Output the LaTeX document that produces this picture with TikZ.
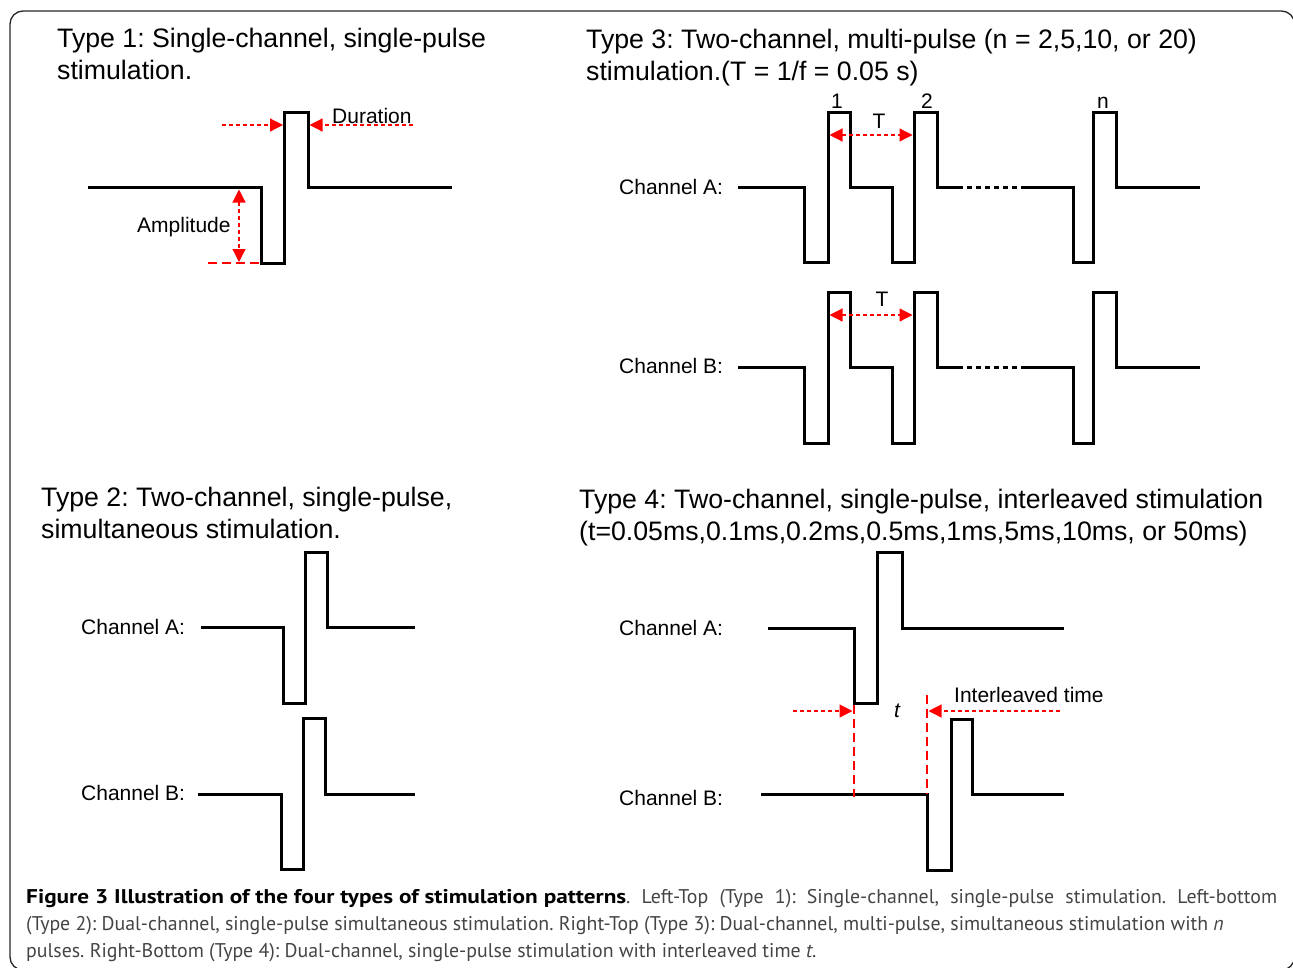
\documentclass[tikz,border=0pt]{standalone}
\usepackage{fontspec}
\setmainfont{Liberation Sans}
\newfontfamily\capfont{PT Sans}
\usetikzlibrary{arrows.meta}
\definecolor{capgray}{RGB}{68,68,68}
\frenchspacing
\tikzset{
  x={(1pt,0)}, y={(0,-1pt)},
  wave/.style={line width=3pt, line join=miter, black},
  dotline/.style={line width=3pt, black, dash pattern=on 5pt off 4pt},
  redarrow/.style={red, line width=1.2pt, dash pattern=on 4pt off 3pt, -{Triangle[length=13pt,width=13pt]}},
  reddouble/.style={red, line width=1.2pt, dash pattern=on 4pt off 3pt, {Triangle[length=13pt,width=13pt]}-{Triangle[length=13pt,width=13pt]}},
  redlong/.style={red, line width=2pt, dash pattern=on 9pt off 5pt},
  title/.style={anchor=base west, inner sep=0pt, font=\frenchspacing\fontsize{26.7}{32}\selectfont},
  lab/.style={anchor=base west, inner sep=0pt, font=\fontsize{21}{25}\selectfont},
  labc/.style={anchor=base, inner sep=0pt, font=\fontsize{21}{25}\selectfont},
  capline/.style={anchor=base west, inner sep=0pt, font=\frenchspacing\capfont\fontsize{19.85}{27}\selectfont},
}
\begin{document}
\begin{tikzpicture}
\useasboundingbox (0,0) rectangle (1293,967);
\draw[line width=1.3pt, rounded corners=13pt, black!85] (10,11) rectangle (1294.5,970);

% ---------- Type 1 ----------
\node[title] (t1a) at (57,47) {Type 1: Single-channel, single-pulse};
\node[title] (t1b) at (57,79) {stimulation.};
\draw[wave] (88,187) -- (261,187) -- (261,263) -- (284,263) -- (284,112) -- (308,112) -- (308,187) -- (452,187);
\coordinate (du1s) at (222,125); \coordinate (du1e) at (283,125);
\coordinate (du2s) at (413,125); \coordinate (du2e) at (309.5,125);
\draw[redarrow] (du1s) -- (du1e);
\draw[redarrow] (du2s) -- (du2e);
\node[lab] (dur) at (332,123) {Duration};
\coordinate (am1) at (239,189.5); \coordinate (am2) at (239,262);
\draw[reddouble] (am1) -- (am2);
\coordinate (al1) at (208,263); \coordinate (al2) at (259,263);
\draw[redlong] (al1) -- (al2);
\node[lab] (amp) at (137,232) {Amplitude};

% ---------- Type 3 ----------
\node[title] (t3a) at (586,48) {Type 3: Two-channel, multi-pulse (n = 2,5,10, or 20)};
\node[title] (t3b) at (586,80) {stimulation.(T = 1/f = 0.05 s)};
\node[lab] (c3a) at (619,194.5) {Channel A:};
\node[lab] (c3b) at (619,373.5) {Channel B:};
\draw[wave] (738,187) -- (804,187) -- (804,262) -- (828,262) -- (828,112) -- (850,112) -- (850,187) -- (892,187) -- (892,262) -- (914,262) -- (914,112) -- (937,112) -- (937,187) -- (958,187);
\draw[dotline] (958,187) -- (1023,187);
\draw[wave] (1023,187) -- (1073,187) -- (1073,262) -- (1093,262) -- (1093,112) -- (1116,112) -- (1116,187) -- (1200,187);
\node[labc] (n1) at (837,108) {1};
\node[labc] (n2) at (927,108) {2};
\node[labc] (nn) at (1103,108) {n};
\coordinate (ta1) at (829.5,135); \coordinate (ta2) at (912.5,135);
\draw[reddouble] (ta1) -- (ta2);
\node[labc] (tA) at (879,128) {T};

\draw[wave] (738,367) -- (804,367) -- (804,443) -- (828,443) -- (828,292) -- (850,292) -- (850,367) -- (892,367) -- (892,443) -- (914,443) -- (914,292) -- (937,292) -- (937,367) -- (958,367);
\draw[dotline] (958,367) -- (1023,367);
\draw[wave] (1023,367) -- (1073,367) -- (1073,443) -- (1093,443) -- (1093,292) -- (1116,292) -- (1116,367) -- (1200,367);
\coordinate (tb1) at (829.5,315); \coordinate (tb2) at (912.5,315);
\draw[reddouble] (tb1) -- (tb2);
\node[labc] (tB) at (882,306) {T};

% ---------- Type 2 ----------
\node[title] (t2a) at (41,506) {Type 2: Two-channel, single-pulse,};
\node[title] (t2b) at (41,538) {simultaneous stimulation.};
\node[lab] (c2a) at (81,634.5) {Channel A:};
\node[lab] (c2b) at (81,800.5) {Channel B:};
\draw[wave] (201,627) -- (283,627) -- (283,703) -- (305,703) -- (305,552) -- (327,552) -- (327,627) -- (415,627);
\draw[wave] (198,794) -- (281,794) -- (281,869) -- (303,869) -- (303,718) -- (325,718) -- (325,794) -- (415,794);

% ---------- Type 4 ----------
\node[title] (t4a) at (579,508) {Type 4: Two-channel, single-pulse, interleaved stimulation};
\node[title] (t4b) at (579,540) {(t=0.05ms,0.1ms,0.2ms,0.5ms,1ms,5ms,10ms, or 50ms)};
\node[lab] (c4a) at (619,635.5) {Channel A:};
\node[lab] (c4b) at (619,805.5) {Channel B:};
\draw[wave] (768,628) -- (854,628) -- (854,703) -- (877,703) -- (877,552) -- (902,552) -- (902,628) -- (1064,628);
\draw[wave] (761,794) -- (927,794) -- (927,870) -- (951,870) -- (951,719) -- (972,719) -- (972,794) -- (1064,794);
\coordinate (v1a) at (854,705); \coordinate (v1b) at (854,797);
\coordinate (v2a) at (927,695); \coordinate (v2b) at (927,794);
\draw[redlong] (v1a) -- (v1b);
\draw[redlong] (v2a) -- (v2b);
\coordinate (i1s) at (793,711); \coordinate (i1e) at (852.5,711);
\coordinate (i2s) at (1060,711); \coordinate (i2e) at (928.5,711);
\draw[redarrow] (i1s) -- (i1e);
\draw[redarrow] (i2s) -- (i2e);
\node[labc] (tt) at (897,717) {\itshape t};
\node[lab] (ilt) at (954,702) {Interleaved time};

% ---------- Caption ----------
\node[capline] (cap1a) at (26,903) {\resizebox{600pt}{\height}{\textbf{Figure 3 Illustration of the four types of stimulation patterns}}};
\node[capline, text=capgray] (cap1b) at (626,903) {\makebox[651pt][s]{. Left-Top (Type 1): Single-channel, single-pulse stimulation. Left-bottom}};
\node[capline, text=capgray] (cap2) at (26,930) {(Type 2): Dual-channel, single-pulse simultaneous stimulation. Right-Top (Type 3): Dual-channel, multi-pulse, simultaneous stimulation with \textit{n}};
\node[capline, text=capgray] (cap3) at (26,957) {pulses. Right-Bottom (Type 4): Dual-channel, single-pulse stimulation with interleaved time \textit{t}.};
\end{tikzpicture}
\end{document}
